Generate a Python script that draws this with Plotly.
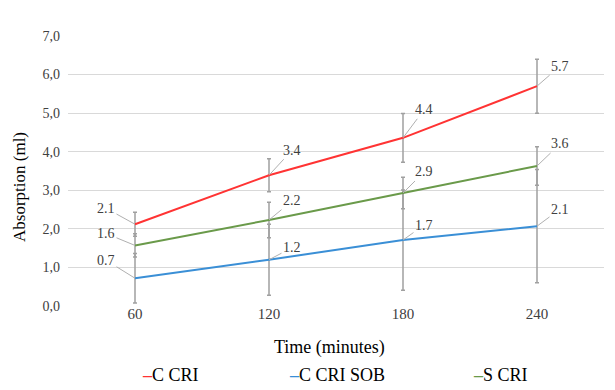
import plotly.graph_objects as go

times = ["60", "120", "180", "240"]
c_cri = [2.12, 3.39, 4.36, 5.70]
c_cri_err = [0.31, 0.43, 0.63, 0.70]
c_cri_sob = [0.72, 1.20, 1.71, 2.07]
c_cri_sob_err = [0.64, 0.92, 1.30, 1.47]
s_cri = [1.57, 2.23, 2.93, 3.63]
s_cri_err = [0.30, 0.46, 0.41, 0.50]
y_ticks = [0, 1, 2, 3, 4, 5, 6, 7]

series = [
    ("C CRI", c_cri, c_cri_err, "#ff3333"),
    ("C CRI SOB", c_cri_sob, c_cri_sob_err, "#3a8fd6"),
    ("S CRI", s_cri, s_cri_err, "#6a9a4a"),
]

# label offsets (pixels) for leader lines, per series per point
offsets = {
    "C CRI": [(-29, -16), (23, -25), (21, -28), (23, -20)],
    "C CRI SOB": [(-29, -18), (23, -12), (21, -15), (23, -17)],
    "S CRI": [(-29, -12), (23, -19), (21, -21), (23, -22)],
}

FONT = "Liberation Serif"
# page body has an 8px margin; plot area spans x 68..604, y 36..306 on screen
PX0, PW, PY0, PH = 68, 536, 306, 270

fig = go.Figure()
annotations = []
for name, vals, errs, color in series:
    fig.add_trace(go.Scatter(
        x=times, y=vals, mode="lines", name=name,
        line=dict(color=color, width=2),
        error_y=dict(type="data", array=errs, visible=True,
                     color="#a0a0a0", thickness=1.5, width=2),
        showlegend=False,
    ))
    for i, v in enumerate(vals):
        ax, ay = offsets[name][i]
        annotations.append(dict(
            x=i, y=v, xref="x", yref="y", text=f"{v:.1f}",
            showarrow=True, arrowhead=0, arrowwidth=1, arrowcolor="#b0b0b0",
            ax=ax, ay=ay, standoff=0, startstandoff=0,
            font=dict(family=FONT, size=14, color="#404040"),
        ))

# axis titles
annotations.append(dict(
    x=(329 - PX0) / PW, y=(PY0 - 347) / PH, xref="paper", yref="paper",
    xanchor="center", yanchor="middle",
    text="Time (minutes)", showarrow=False,
    font=dict(family=FONT, size=18, color="#000000"),
))
annotations.append(dict(
    x=(19 - PX0) / PW, y=(PY0 - 187) / PH, xref="paper", yref="paper",
    xanchor="center", yanchor="middle", textangle=-90,
    text="Absorption (ml)", showarrow=False,
    font=dict(family=FONT, size=17, color="#000000"),
))

# legend
legend_x = [140, 287, 471]
for (name, _, _, color), lx in zip(series, legend_x):
    annotations.append(dict(
        x=(lx - PX0) / PW, y=(PY0 - 375) / PH, xref="paper", yref="paper",
        xanchor="left", yanchor="middle",
        text=f"<span style='color:{color}'><b>\u2013</b></span>{name}",
        showarrow=False,
        font=dict(family=FONT, size=18, color="#000000"),
    ))

fig.update_layout(
    width=607, height=382,
    margin=dict(l=60, r=11, t=28, b=84),
    paper_bgcolor="white", plot_bgcolor="white",
    separators=",.",
    annotations=annotations,
    font=dict(family=FONT),
)
fig.update_xaxes(
    type="category", range=[-0.5, 3.5],
    showgrid=False, showline=False, zeroline=False,
    ticks="", ticklabelstandoff=-3,
    tickfont=dict(family=FONT, size=15, color="#404040"),
)
fig.update_yaxes(
    range=[0, 7], tickvals=y_ticks, tickformat=".1f",
    showgrid=True, gridcolor="#d9d9d9", gridwidth=1,
    zeroline=False, showline=False,
    ticks="", ticklabelstandoff=7,
    tickfont=dict(family=FONT, size=14, color="#404040"),
)

fig.write_html("out.html")
